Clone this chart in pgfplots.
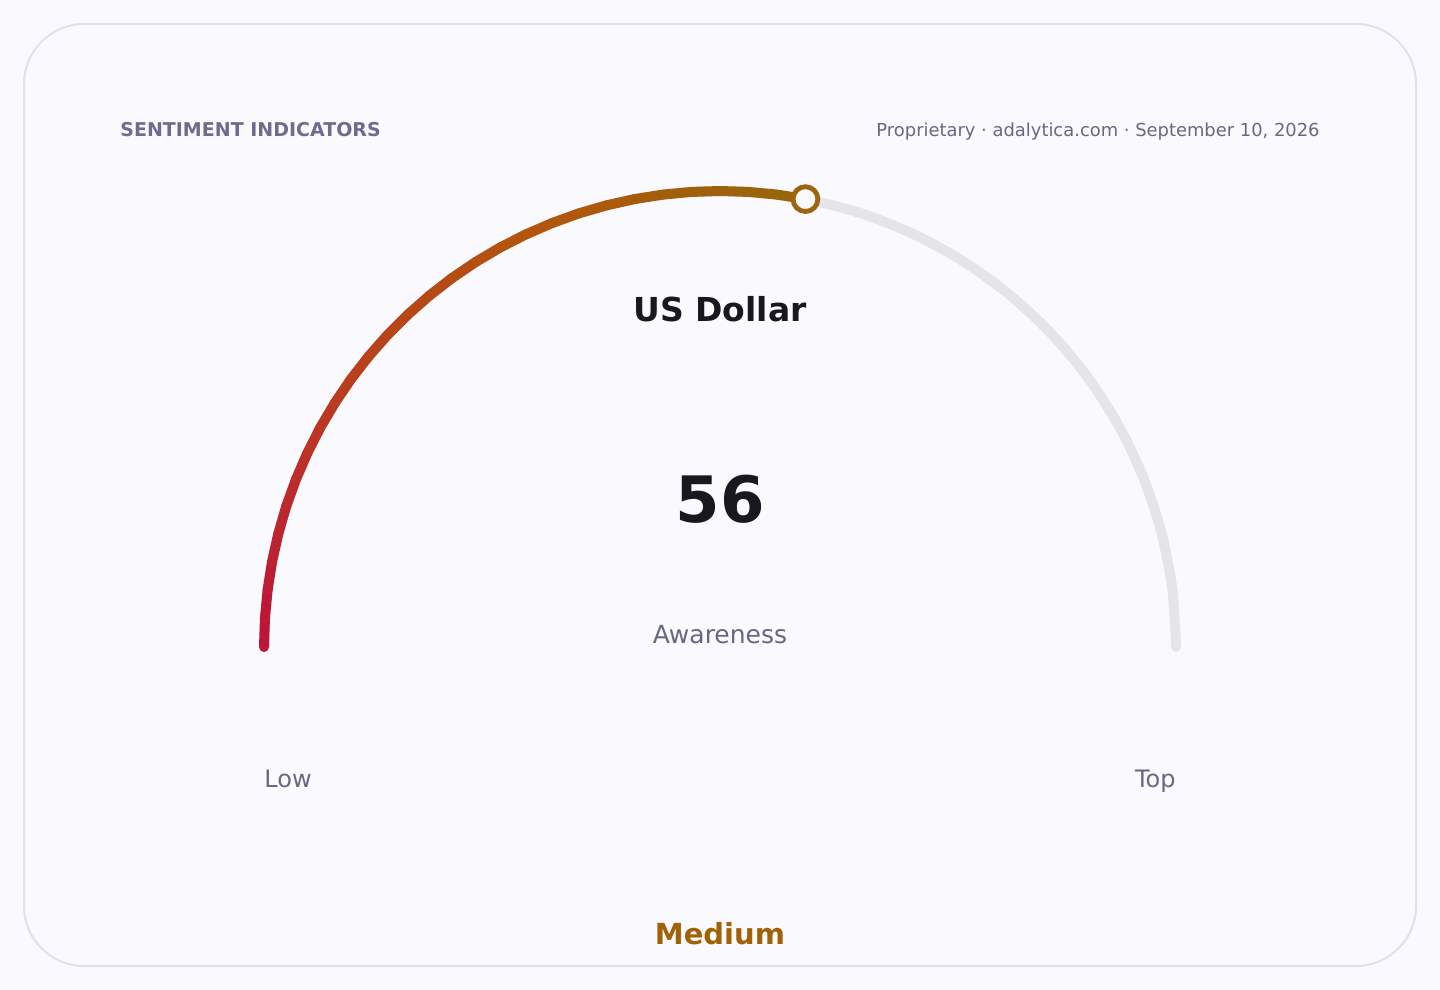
\documentclass[border=0pt]{standalone}
\usepackage{pgfplots}
\usepackage{pgfplotstable}
\pgfplotsset{compat=1.18}
\usepackage{fontspec}
\setmainfont{DejaVu Sans}

\definecolor{pagebg}{RGB}{250,250,254}
\definecolor{cardbg}{RGB}{249,249,254}
\definecolor{cardedge}{RGB}{224,224,238}
\definecolor{titlecol}{RGB}{110,108,140}
\definecolor{subcol}{RGB}{104,104,128}
\definecolor{ink}{RGB}{24,24,30}
\definecolor{trackgray}{RGB}{228,228,233}
\definecolor{gold}{RGB}{161,98,7}
\definecolor{ringcol}{RGB}{158,100,14}

% gauge value (0..100) and radius in px
\pgfplotstableread{
v r
56 456
}\gaugevalue

% filled part of the arc (0 -> value)
\pgfplotstableread{
v r
0 456
2 456
4 456
6 456
8 456
10 456
12 456
14 456
16 456
18 456
20 456
22 456
24 456
26 456
28 456
30 456
32 456
34 456
36 456
38 456
40 456
42 456
44 456
46 456
48 456
50 456
52 456
54 456
56 456
}\filledarc

% full track (0 -> 100)
\pgfplotstableread{
v r
0 456
4 456
8 456
12 456
16 456
20 456
24 456
28 456
32 456
36 456
40 456
44 456
48 456
52 456
56 456
60 456
64 456
68 456
72 456
76 456
80 456
84 456
88 456
92 456
96 456
100 456
}\trackarc

\pgfplotsset{colormap={gauge}{rgb255=(190,18,60) rgb255=(186,60,32) rgb255=(178,86,12) rgb255=(150,102,10)}}

\begin{document}
\begin{tikzpicture}
\begin{axis}[
    width=720pt, height=495pt,
    scale only axis,
    xmin=0, xmax=1440,
    ymin=0, ymax=990,
    y dir=reverse,
    hide axis,
    clip=false,
    colormap name=gauge,
]
% page and card
\fill[pagebg] (axis cs:0,0) rectangle (axis cs:1440,990);
\draw[cardedge, line width=1pt, fill=cardbg, rounded corners=30pt]
    (axis cs:24,24) rectangle (axis cs:1416,966);

% gray track
\addplot[trackgray, line width=5pt, line cap=round, no marks, smooth]
    table[x expr={720-\thisrow{r}*cos(\thisrow{v}*1.8)}, y expr={647-\thisrow{r}*sin(\thisrow{v}*1.8)}] {\trackarc};

% coloured arc up to the value
\addplot[mesh, line width=5pt, line cap=round, no marks,
    point meta=\thisrow{v}, point meta min=0, point meta max=56]
    table[x expr={720-\thisrow{r}*cos(\thisrow{v}*1.8)}, y expr={647-\thisrow{r}*sin(\thisrow{v}*1.8)}] {\filledarc};

% marker at the value
\addplot[only marks, mark=*, mark size=6.2pt,
    mark options={draw=ringcol, fill=cardbg, line width=2.4pt}]
    table[x expr={720-\thisrow{r}*cos(\thisrow{v}*1.8)}, y expr={647-\thisrow{r}*sin(\thisrow{v}*1.8)}] {\gaugevalue};

% texts
\node[anchor=base west, text=titlecol, font=\fontsize{9.5pt}{11pt}\selectfont\bfseries, inner sep=0pt]
    at (axis cs:120,137) {SENTIMENT INDICATORS};
\node[anchor=base east, text=subcol, font=\fontsize{8.95pt}{11pt}\selectfont, inner sep=0pt]
    at (axis cs:1320,137) {Proprietary · adalytica.com · September 10, 2026};
\node[anchor=base, text=ink, font=\fontsize{16.5pt}{20pt}\selectfont\bfseries, inner sep=0pt]
    at (axis cs:720,321) {US Dollar};
\node[anchor=base, text=ink, font=\fontsize{32pt}{38pt}\selectfont\bfseries, inner sep=0pt]
    at (axis cs:720,522) {56};
\node[anchor=base, text=subcol, font=\fontsize{12.5pt}{15pt}\selectfont, inner sep=0pt]
    at (axis cs:720,643) {Awareness};
\node[anchor=base west, text=subcol, font=\fontsize{12pt}{14pt}\selectfont, inner sep=0pt]
    at (axis cs:264,787) {Low};
\node[anchor=base east, text=subcol, font=\fontsize{12pt}{14pt}\selectfont, inner sep=0pt]
    at (axis cs:1176,787) {Top};
\node[anchor=base, text=gold, font=\fontsize{14.5pt}{17pt}\selectfont\bfseries, inner sep=0pt]
    at (axis cs:720,944) {Medium};
\end{axis}
\end{tikzpicture}
\end{document}
